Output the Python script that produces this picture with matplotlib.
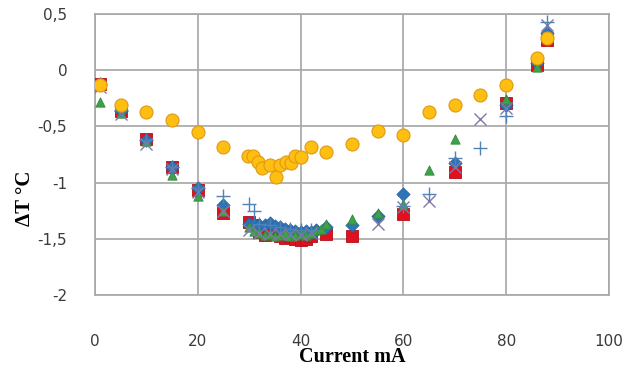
import numpy as np
import matplotlib.pyplot as plt

# data
sq_x = [1, 5, 10, 15, 20, 25, 30, 31, 32, 33, 34, 35, 36, 37, 38, 39, 40, 41, 42, 45, 50, 60, 70, 80, 86, 88]
sq_y = [-0.12, -0.36, -0.61, -0.86, -1.07, -1.27, -1.35, -1.38, -1.44, -1.47, -1.46, -1.45, -1.48, -1.49,
        -1.48, -1.50, -1.51, -1.50, -1.48, -1.46, -1.48, -1.28, -0.91, -0.29, 0.05, 0.27]

dia_x = [1, 5, 10, 15, 20, 25, 30, 31, 32, 33, 34, 35, 36, 37, 38, 39, 40, 41, 42, 43, 45, 50, 55, 60, 70, 80, 86, 88]
dia_y = [-0.12, -0.36, -0.62, -0.86, -1.05, -1.20, -1.37, -1.37, -1.38, -1.38, -1.36, -1.39, -1.40, -1.41,
         -1.42, -1.43, -1.44, -1.43, -1.44, -1.42, -1.40, -1.38, -1.30, -1.10, -0.83, -0.31, 0.06, 0.33]

tri_x = [1, 5, 10, 15, 20, 25, 30, 31, 32, 33, 34, 35, 36, 37, 38, 39, 40, 41, 42, 43, 44, 45, 50, 55, 60, 65, 70, 80, 86, 88]
tri_y = [-0.28, -0.38, -0.63, -0.93, -1.12, -1.25, -1.40, -1.43, -1.45, -1.47, -1.46, -1.48, -1.47, -1.45,
         -1.48, -1.47, -1.46, -1.47, -1.45, -1.42, -1.41, -1.37, -1.32, -1.27, -1.19, -0.89, -0.61, -0.26, 0.03, 0.30]

x_x = [1, 5, 10, 15, 20, 25, 30, 32, 34, 36, 38, 40, 42, 55, 60, 65, 70, 75, 80, 88]
x_y = [-0.15, -0.39, -0.66, -0.88, -1.08, -1.25, -1.42, -1.45, -1.46, -1.46, -1.46, -1.47, -1.45,
       -1.37, -1.22, -1.16, -0.86, -0.43, -0.34, 0.40]

pl_x = [1, 5, 10, 15, 20, 25, 30, 31, 32, 34, 36, 38, 40, 42, 60, 65, 70, 75, 80, 88]
pl_y = [-0.12, -0.35, -0.62, -0.86, -1.05, -1.12, -1.19, -1.25, -1.37, -1.38, -1.40, -1.41, -1.42, -1.42,
        -1.21, -1.10, -0.78, -0.69, -0.41, 0.43]

ci_x = [1, 5, 10, 15, 20, 25, 29.8, 30.8, 31.8, 32.6, 34, 35.2, 36.1, 37.1, 38.1, 39, 40, 42, 45, 50,
        55, 60, 65, 70, 75, 80, 86, 88]
ci_y = [-0.13, -0.31, -0.37, -0.44, -0.55, -0.68, -0.76, -0.76, -0.82, -0.87, -0.84, -0.95, -0.84, -0.82,
        -0.83, -0.76, -0.77, -0.68, -0.73, -0.66, -0.54, -0.58, -0.37, -0.31, -0.22, -0.13, 0.11, 0.29]

fig = plt.figure(figsize=(6.37, 3.70), dpi=100)
ax = fig.add_axes([0.149, 0.203, 0.807, 0.759])

ax.scatter(sq_x, sq_y, marker='s', s=65, color='#e0101e', edgecolors='#b01018', linewidths=0.6, zorder=3)
ax.scatter(dia_x, dia_y, marker='D', s=45, color='#2e75b6', edgecolors='#2a62a0', linewidths=0.6, zorder=4)
ax.scatter(tri_x, tri_y, marker='^', s=45, color='#3fa04a', edgecolors='#348a3e', linewidths=0.6, zorder=5)
ax.scatter(x_x, x_y, marker='x', s=75, color='#8079a8', linewidths=1.0, zorder=6)
ax.scatter(pl_x, pl_y, marker='+', s=100, color='#4f83b8', linewidths=1.0, zorder=7)
ax.scatter(ci_x, ci_y, marker='o', s=88, color='#ffbe12', edgecolors='#e09a10', linewidths=0.8, zorder=8)

ax.set_xlim(0, 100)
ax.set_ylim(-2, 0.5)
ax.set_xticks(np.arange(0, 101, 20))
ax.set_yticks(np.arange(-2, 0.51, 0.5))
ax.set_yticklabels(['-2', '-1,5', '-1', '-0,5', '0', '0,5'])

ax.grid(True, color='#a6a6a6', linewidth=1.2)
ax.set_axisbelow(True)
for sp in ax.spines.values():
    sp.set_color('#a6a6a6')
    sp.set_linewidth(1.2)
ax.tick_params(length=0, labelsize=11, labelcolor='#3a3a3a')
ax.tick_params(axis='x', pad=28)
ax.tick_params(axis='y', pad=20)

fig.text(0.553, 0.008, 'Current mA', ha='center', va='bottom', fontsize=14.5,
         fontweight='bold', family='Liberation Serif')
fig.text(0.04, 0.465, 'ΔT °C', ha='center', va='center', rotation=90, fontsize=15,
         fontweight='bold', family='Liberation Serif')

fig.savefig('out.png', dpi=100)
